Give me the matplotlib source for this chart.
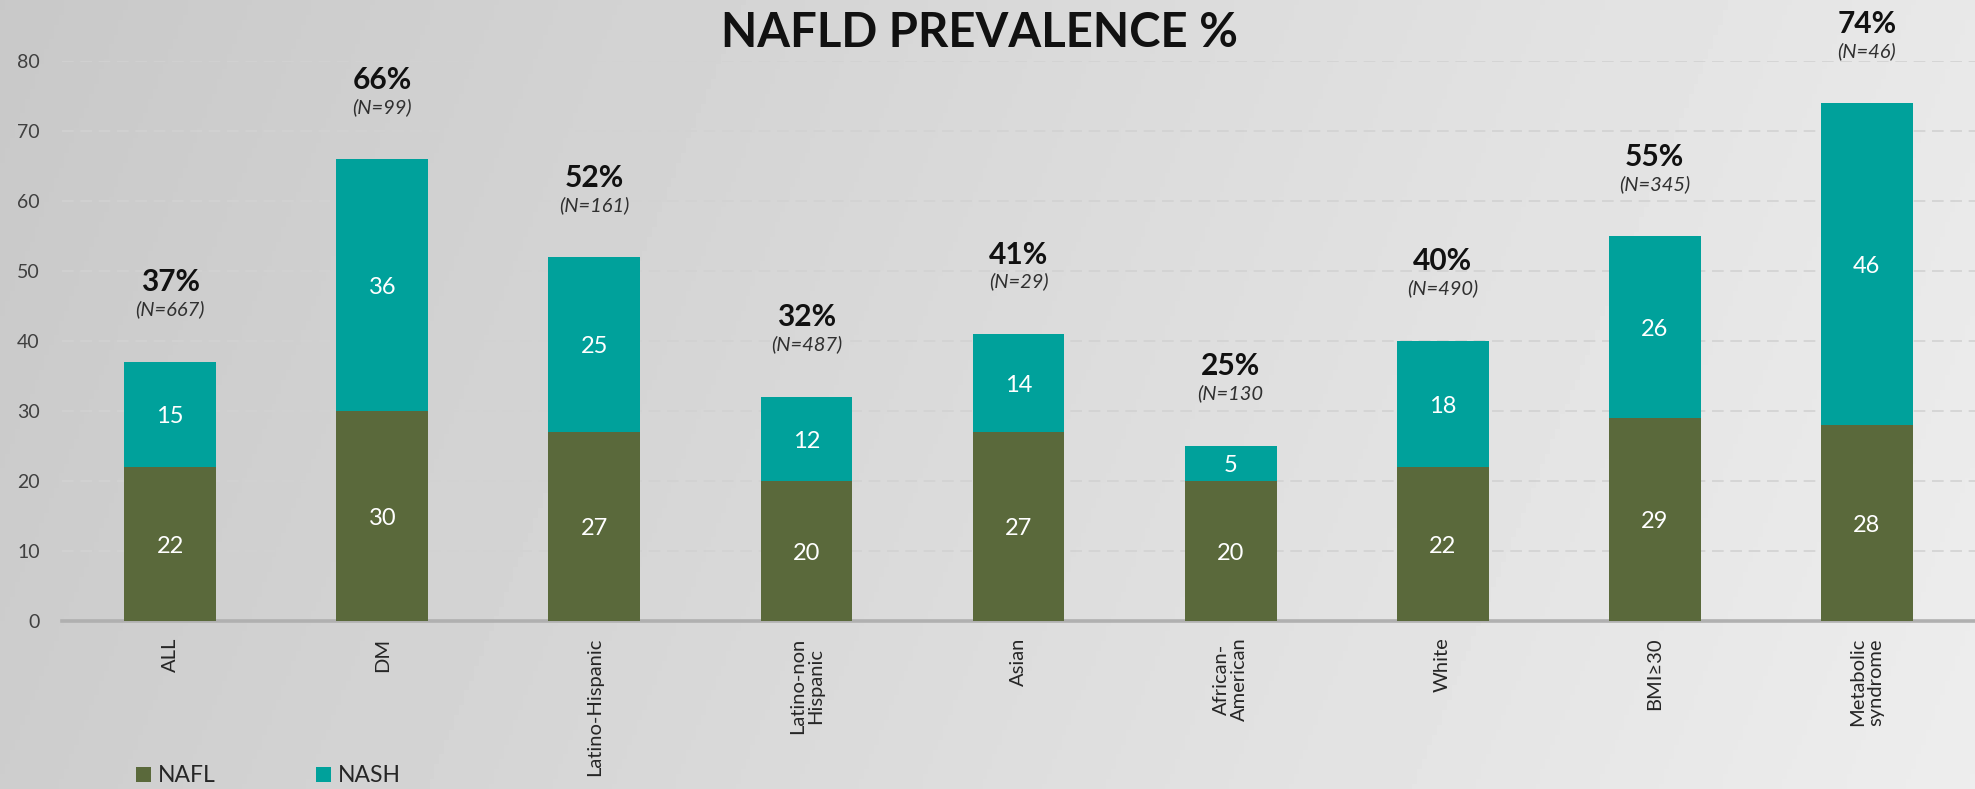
import numpy as np
import matplotlib
matplotlib.use("Agg")
import matplotlib.pyplot as plt

# ---- data ----
categories = ["ALL", "DM", "Latino-Hispanic", "Latino-non\nHispanic", "Asian",
              "African-\nAmerican", "White", "BMI\u226530", "Metabolic\nsyndrome"]
nafl = [22, 30, 27, 20, 27, 20, 22, 29, 28]
nash = [15, 36, 25, 12, 14, 5, 18, 26, 46]
prevalence = ["37%", "66%", "52%", "32%", "41%", "25%", "40%", "55%", "74%"]
n_labels = ["(N=667)", "(N=99)", "(N=161)", "(N=487)", "(N=29)", "(N=130",
            "(N=490)", "(N=345)", "(N=46)"]
series_names = ["NAFL", "NASH"]
title = "NAFLD PREVALENCE %"

C_NAFL = "#5A693B"
C_NASH = "#00A19B"
FONT = "Lato"

fig = plt.figure(figsize=(19.75, 7.89), dpi=100)

# background gradient
bg = fig.add_axes([0, 0, 1, 1], zorder=-10)
xx = np.linspace(0, 1, 400)
yy = np.linspace(0, 1, 160)
X, Y = np.meshgrid(xx, yy)
val = 0.785 + 0.125 * X + 0.02 * Y
bg.imshow(val, cmap="gray", vmin=0, vmax=1, aspect="auto",
          extent=[0, 1, 0, 1], origin="upper")
bg.set_axis_off()

ax = fig.add_axes([0.0314, 0.2129, 0.9686, 0.7094])
ax.set_facecolor("none")

x = np.arange(len(categories))
w = 0.433
b1 = ax.bar(x, nafl, w, color=C_NAFL, label=series_names[0], zorder=3)
b2 = ax.bar(x, nash, w, bottom=nafl, color=C_NASH, label=series_names[1], zorder=3)

ax.set_xlim(-0.51, 8.51)
ax.set_ylim(0, 80)
ax.set_yticks(range(0, 81, 10))
ax.yaxis.grid(True, color="#d2d2d2", linestyle=(0, (7, 4)), linewidth=1.2, zorder=0)
ax.set_axisbelow(True)
for s in ["top", "right", "left"]:
    ax.spines[s].set_visible(False)
ax.spines["bottom"].set_color("#b0b0b0")
ax.spines["bottom"].set_linewidth(2.6)
ax.spines["bottom"].set_zorder(2)

ax.tick_params(axis="y", length=0, pad=16, labelsize=14, labelcolor="#404040")
ax.tick_params(axis="x", length=0, pad=12)
for lab in ax.get_yticklabels():
    lab.set_fontfamily(FONT)
ax.set_xticks(x)
ax.set_xticklabels(categories, rotation=90, fontsize=14.5, color="#262626",
                   multialignment="center", linespacing=1.05)
for lab in ax.get_xticklabels():
    lab.set_fontfamily(FONT)

for i in range(len(categories)):
    total = nafl[i] + nash[i]
    ax.text(x[i], nafl[i] / 2, str(nafl[i]), ha="center", va="center_baseline",
            color="white", fontsize=17, family=FONT, zorder=4)
    ax.text(x[i], nafl[i] + nash[i] / 2, str(nash[i]), ha="center",
            va="center_baseline", color="white", fontsize=17, family=FONT, zorder=4)
    ax.text(x[i], total + 10.1, prevalence[i], ha="center", va="baseline",
            fontsize=21.5, fontweight="bold", family=FONT, color="#111111",
            clip_on=False)
    ax.text(x[i], total + 7.5, n_labels[i], ha="center", va="center",
            fontsize=14.5, fontstyle="italic", family=FONT, color="#303030",
            clip_on=False)

fig.text(0.4957, 0.9404, title, ha="center", va="baseline", fontsize=34,
         fontweight="bold", family=FONT, color="#111111")

leg = fig.legend(handles=[b1, b2], labels=series_names, loc="center left",
                 bbox_to_anchor=(136 / 1975, 1 - 776 / 789), ncol=2,
                 frameon=False, borderpad=0, borderaxespad=0,
                 handlelength=0.65, handleheight=0.65, handletextpad=0.3,
                 columnspacing=4.4, prop={"family": FONT, "size": 16.5})
for t in leg.get_texts():
    t.set_color("#262626")

fig.savefig("out.png", dpi=100)
